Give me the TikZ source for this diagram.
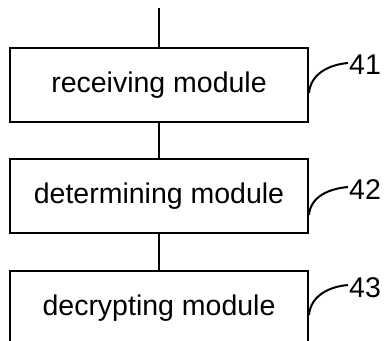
\documentclass[tikz,border=0pt]{standalone}
\usepackage{fontspec}
\setmainfont{Liberation Sans}
\begin{document}
\begin{tikzpicture}[x=1pt, y=-1pt,
    module/.style={draw, line width=2pt, minimum width=298pt, minimum height=74pt,
      inner sep=0pt, font=\fontsize{28.5}{34}\selectfont},
    refnum/.style={anchor=west, inner sep=0pt, font=\fontsize{28.5}{34}\selectfont},
    lead/.style={line width=2pt}]
                  \useasboundingbox (0,0) rectangle (388,340);
                  \begin{scope}
                    % Draw modules
                    \node[module] (recv) at (159, 85) {receiving module};
                    \node[module] (det)  at (159,196) {determining module};
                    \node[module] (decr) at (159,308) {decrypting module};
                    \coordinate (in) at (159,8);

                    \draw[lead] (in) -- (recv.north);
                    \draw[lead] (recv.south) -- (det.north);
                    \draw[lead] (det.south) -- (decr.north);

                    % Reference numbers
                    \node[refnum] (n41) at (349, 65) {41};
                    \node[refnum] (n42) at (349,190) {42};
                    \node[refnum] (n43) at (349,288) {43};

                    \draw[lead] ([yshift=-8pt]recv.east) to[out=85, in=185] ([xshift=-1pt,yshift=2pt]n41.west);
                    \draw[lead] ([yshift=-19pt]det.east) to[out=85, in=185] ([xshift=-1pt,yshift=3pt]n42.west);
                    \draw[lead] ([yshift=-7pt]decr.east) to[out=85, in=185] ([xshift=-1pt,yshift=3pt]n43.west);
                  \end{scope}
                \end{tikzpicture}
\end{document}
